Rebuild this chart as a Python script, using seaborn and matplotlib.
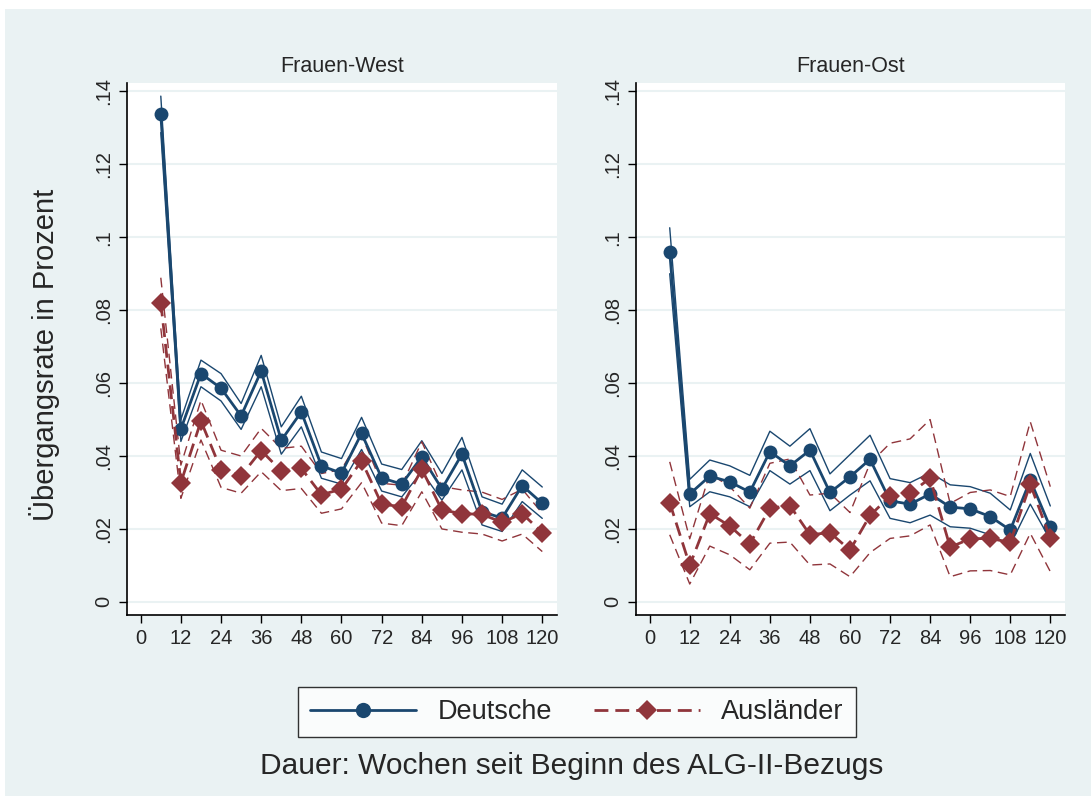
import pandas as pd
import seaborn as sns
import matplotlib.pyplot as plt
from matplotlib.patches import Rectangle
from matplotlib.lines import Line2D

# ---------------------------------------------------------------------
# Data
# ---------------------------------------------------------------------
weeks = [6, 12, 18, 24, 30, 36, 42, 48, 54, 60,
         66, 72, 78, 84, 90, 96, 102, 108, 114, 120]

west_de = [0.1338, 0.0474, 0.0626, 0.0586, 0.0510, 0.0633, 0.0443, 0.0521, 0.0373, 0.0353,
           0.0462, 0.0340, 0.0323, 0.0398, 0.0310, 0.0405, 0.0247, 0.0230, 0.0319, 0.0270]
west_de_hi = [0.1387, 0.0500, 0.0663, 0.0626, 0.0544, 0.0676, 0.0480, 0.0564, 0.0411, 0.0393,
              0.0506, 0.0378, 0.0363, 0.0442, 0.0352, 0.0451, 0.0288, 0.0268, 0.0362, 0.0315]
west_de_lo = [0.1287, 0.0440, 0.0590, 0.0551, 0.0473, 0.0590, 0.0405, 0.0480, 0.0339, 0.0323,
              0.0418, 0.0304, 0.0288, 0.0357, 0.0279, 0.0362, 0.0211, 0.0193, 0.0275, 0.0229]

west_aus = [0.0821, 0.0327, 0.0496, 0.0362, 0.0346, 0.0415, 0.0359, 0.0366, 0.0294, 0.0309,
            0.0387, 0.0268, 0.0261, 0.0364, 0.0252, 0.0242, 0.0240, 0.0218, 0.0242, 0.0190]
west_aus_hi = [0.0889, 0.0375, 0.0553, 0.0416, 0.0400, 0.0476, 0.0421, 0.0427, 0.0352, 0.0363,
               0.0457, 0.0325, 0.0320, 0.0439, 0.0316, 0.0307, 0.0301, 0.0281, 0.0309, 0.0243]
west_aus_lo = [0.0750, 0.0284, 0.0444, 0.0314, 0.0298, 0.0357, 0.0305, 0.0311, 0.0243, 0.0255,
               0.0327, 0.0216, 0.0209, 0.0302, 0.0200, 0.0191, 0.0186, 0.0167, 0.0186, 0.0138]

ost_de = [0.0960, 0.0296, 0.0345, 0.0329, 0.0301, 0.0412, 0.0373, 0.0416, 0.0300, 0.0343,
          0.0391, 0.0277, 0.0268, 0.0296, 0.0260, 0.0255, 0.0234, 0.0197, 0.0334, 0.0204]
ost_de_hi = [0.1026, 0.0336, 0.0389, 0.0373, 0.0347, 0.0468, 0.0427, 0.0475, 0.0351, 0.0404,
             0.0457, 0.0338, 0.0327, 0.0354, 0.0321, 0.0316, 0.0298, 0.0252, 0.0407, 0.0263]
ost_de_lo = [0.0900, 0.0261, 0.0302, 0.0288, 0.0261, 0.0360, 0.0323, 0.0360, 0.0250, 0.0293,
             0.0332, 0.0229, 0.0217, 0.0238, 0.0206, 0.0202, 0.0184, 0.0156, 0.0268, 0.0170]

ost_aus = [0.0272, 0.0100, 0.0242, 0.0208, 0.0159, 0.0257, 0.0264, 0.0184, 0.0190, 0.0142,
           0.0237, 0.0290, 0.0298, 0.0339, 0.0150, 0.0173, 0.0174, 0.0163, 0.0323, 0.0174]
ost_aus_hi = [0.0384, 0.0173, 0.0352, 0.0316, 0.0257, 0.0380, 0.0392, 0.0293, 0.0298, 0.0245,
              0.0380, 0.0435, 0.0447, 0.0500, 0.0270, 0.0300, 0.0307, 0.0289, 0.0494, 0.0316]
ost_aus_lo = [0.0184, 0.0049, 0.0153, 0.0129, 0.0088, 0.0161, 0.0164, 0.0101, 0.0104, 0.0069,
              0.0135, 0.0174, 0.0181, 0.0211, 0.0069, 0.0085, 0.0086, 0.0074, 0.0188, 0.0083]

panels = ["Frauen-West", "Frauen-Ost"]
groups = ["Deutsche", "Ausländer"]
y_ticks = [0, 0.02, 0.04, 0.06, 0.08, 0.1, 0.12, 0.14]
y_labels = ["0", ".02", ".04", ".06", ".08", ".1", ".12", ".14"]
x_ticks = list(range(0, 121, 12))

series = {
    "Frauen-West": {
        "Deutsche": (west_de, west_de_lo, west_de_hi),
        "Ausländer": (west_aus, west_aus_lo, west_aus_hi),
    },
    "Frauen-Ost": {
        "Deutsche": (ost_de, ost_de_lo, ost_de_hi),
        "Ausländer": (ost_aus, ost_aus_lo, ost_aus_hi),
    },
}

# ---------------------------------------------------------------------
# Styling
# ---------------------------------------------------------------------
sns.set_style("white")
plt.rcParams["font.family"] = ["Liberation Sans", "DejaVu Sans"]

navy = "#1A476F"
maroon = "#90353B"
bg = "#EAF2F3"
colors = {"Deutsche": navy, "Ausländer": maroon}
markers = {"Deutsche": "o", "Ausländer": "D"}
dashes = {"Deutsche": "", "Ausländer": (5, 2.5)}

W, H = 1091, 796
fig = plt.figure(figsize=(W / 100, H / 100), dpi=100, facecolor="white")
fig.patches.append(Rectangle((5 / W, 0), 1 - 5 / W, 1 - 9 / H,
                             transform=fig.transFigure, facecolor=bg,
                             edgecolor="none", zorder=-10))

boxes = [(127, 557), (636, 1065)]
top, bottom = 83, 615

for (x0, x1), panel in zip(boxes, panels):
    ax = fig.add_axes([x0 / W, 1 - bottom / H, (x1 - x0) / W, (bottom - top) / H])
    ax.set_facecolor("white")

    rows = []
    for grp in groups:
        est, lo, hi = series[panel][grp]
        for w, e, l, h in zip(weeks, est, lo, hi):
            rows.append({"week": w, "rate": e, "lo": l, "hi": h, "group": grp})
    df = pd.DataFrame(rows)

    # confidence bands as thin lines
    for grp in groups:
        sub = df[df["group"] == grp]
        ls = "-" if grp == "Deutsche" else (0, (7, 4))
        for col in ["lo", "hi"]:
            sns.lineplot(data=sub, x="week", y=col, ax=ax, color=colors[grp],
                         linewidth=1.0, linestyle=ls, errorbar=None,
                         legend=False, zorder=2)

    # point estimates
    sns.lineplot(data=df, x="week", y="rate", hue="group", style="group",
                 hue_order=groups, style_order=groups, palette=colors,
                 markers=markers, dashes=dashes, markersize=10,
                 markeredgewidth=0, linewidth=2.0, errorbar=None,
                 legend=False, ax=ax, zorder=3)

    ax.set_xlim(-4.1, 124.4)
    ax.set_ylim(-0.0036, 0.1423)
    ax.set_xticks(x_ticks)
    ax.set_yticks(y_ticks)
    ax.set_yticklabels(y_labels, rotation=90, va="center")
    ax.tick_params(axis="both", direction="out", length=6, width=1,
                   color="black", labelsize=14.5, pad=4, left=True, bottom=True)
    ax.grid(axis="y", color=bg, linewidth=1.5)
    ax.grid(axis="x", visible=False)
    ax.set_axisbelow(True)
    for side in ["top", "right"]:
        ax.spines[side].set_visible(False)
    for side in ["left", "bottom"]:
        ax.spines[side].set_color("black")
        ax.spines[side].set_linewidth(1.2)
    ax.set_xlabel("")
    ax.set_ylabel("")
    ax.set_title(panel, fontsize=15.5, pad=8)

# Common axis labels
fig.text(45 / W, 1 - 355 / H, "Übergangsrate in Prozent", rotation=90,
         ha="center", va="center", fontsize=21)
fig.text(572 / W, 1 - 766 / H, "Dauer: Wochen seit Beginn des ALG-II-Bezugs",
         ha="center", va="center", fontsize=21.5)

# Legend
handles = [
    Line2D([], [], color=navy, linewidth=2.0, marker="o", markersize=11,
           markeredgewidth=0),
    Line2D([], [], color=maroon, linewidth=2.0, linestyle=(0, (5, 2.5)),
           marker="D", markersize=10, markeredgewidth=0),
]
leg = fig.legend(handles, groups, loc="center", bbox_to_anchor=(577 / W, 1 - 712 / H),
                 ncol=2, fontsize=19.5, frameon=True, fancybox=False,
                 handlelength=3.9, columnspacing=1.55, handletextpad=0.8,
                 borderpad=0.45)
leg.get_frame().set_edgecolor("black")
leg.get_frame().set_linewidth(1.0)

fig.savefig("out.png", dpi=100, facecolor="white")
